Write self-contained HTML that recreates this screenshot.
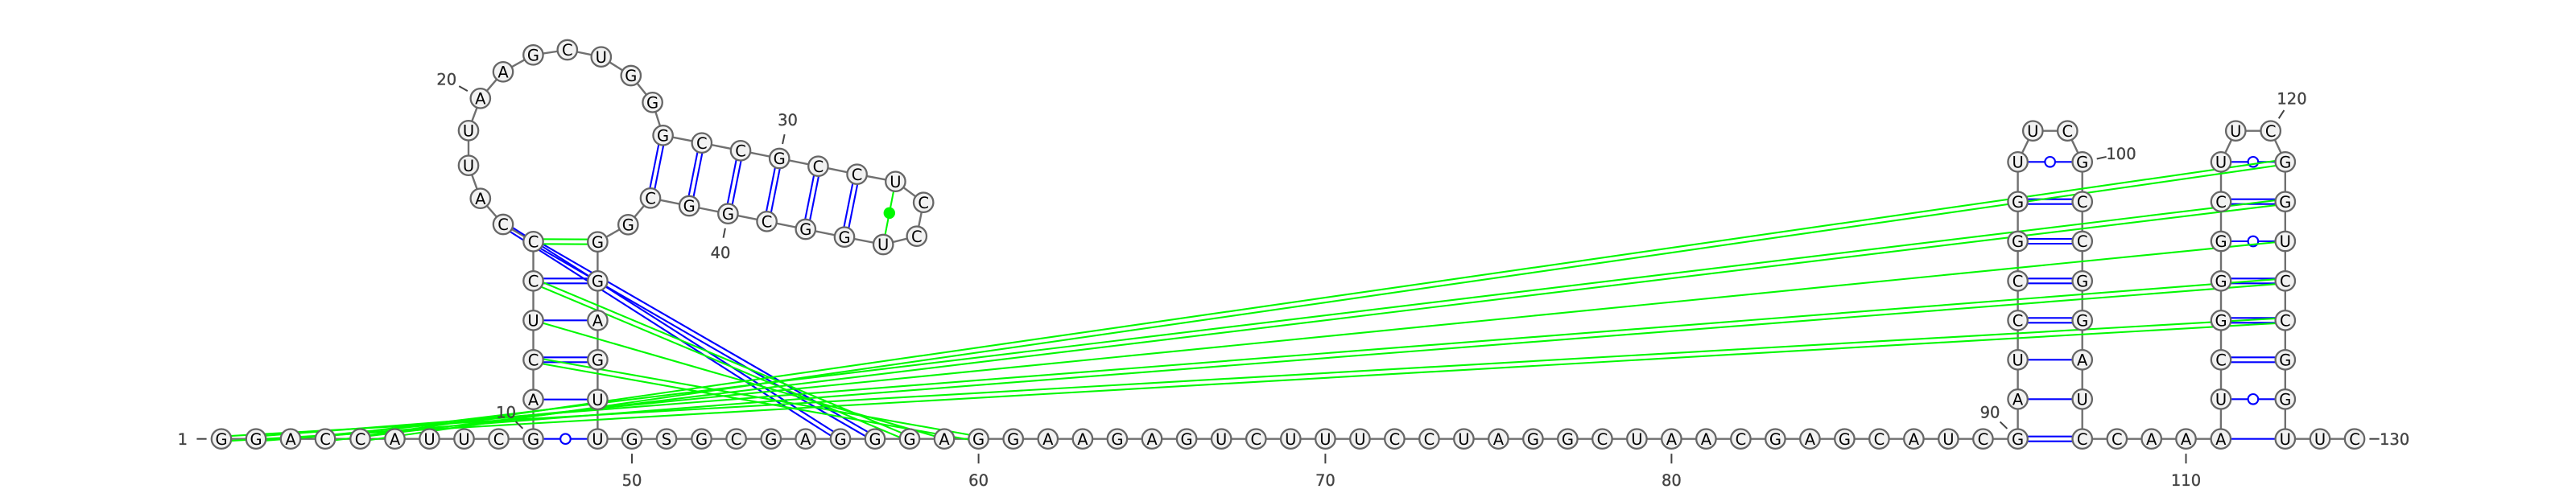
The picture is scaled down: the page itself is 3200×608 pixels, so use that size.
<!DOCTYPE html>
<html lang="en">
<head>
<meta charset="utf-8">
<title>RNA secondary structure diagram</title>
<style>
html,body{margin:0;padding:0;background:#fff;width:3200px;height:608px;overflow:hidden}
svg{display:block}
.base-letter{font-family:"DejaVu Sans","Liberation Sans",sans-serif;font-size:19.5px;fill:#000;text-anchor:middle}
.num-label{font-family:"DejaVu Sans","Liberation Sans",sans-serif;font-size:19.5px;fill:#444;stroke:#444;stroke-width:0.35px;text-anchor:middle}
</style>
</head>
<body>
<svg id="chart" xmlns="http://www.w3.org/2000/svg" width="3200" height="608" viewBox="0 0 3200 608">
  <g id="backbone"></g>
  <g id="pairs"></g>
  <g id="bases"></g>
  <g id="labels"></g>
</svg>
<script>
// Residue identity, index 0 = residue 1
const sequence = "GGACCAUUCG" + "ACUCCCAUUA" + "AGCUGGGCCG" + "CCUCCUGGCG" + "GCGGGAGUUG" +
                 "SGCGAGGGAG" + "GAAGAGUCUU" + "UCCUAGGCUA" + "ACGAGCAUCG" + "AUCCGGUUCG" +
                 "CCGGAUCCAA" + "AUCGGGCUUC" + "GGUCCGGUUC";

// Layout coordinates (layout units, origin at residue 1, y grows upward)
const layoutX = [
  0,43,86,129,172.5,215.5,258.5,301.5,344.5,387.5,
  387.5,387.5,387.5,387.5,387.5,350,321.8,307,307,321.8,
  350,387.4,429.8,471.8,508.8,535.6,548.6,596.8,645,693.2,
  741.4,789.6,837.4,872.2,863.8,822.2,774,725.8,677.6,629.4,
  581.2,533,505.3,467.4,467.4,467.4,467.4,467.4,467.4,510,
  553,596.5,639.6,682.8,725.7,769,812,855,898,940.6,
  983.7,1026.8,1069.9,1112.9,1156,1199.1,1242.2,1285.3,1328.3,1371.4,
  1414.4,1457.4,1500.4,1543.4,1586.4,1629.4,1672.4,1715.4,1758.4,1801.4,
  1844.4,1887.4,1930.4,1973.4,2016.4,2059.4,2102.4,2145.4,2188.4,2231.6,
  2231.6,2231.6,2231.6,2231.6,2231.6,2231.6,2231.6,2250.3,2293.3,2311.7,
  2311.7,2311.7,2311.7,2311.7,2311.7,2311.7,2311.7,2354.8,2397.7,2440.5,
  2483.8,2484,2484,2484,2484,2484,2484,2484,2502.3,2545.7,
  2563.8,2563.8,2563.8,2563.8,2563.8,2563.8,2563.8,2563.8,2607,2650
];
const layoutY = [
  0,0,0,0,0,0,0,0,0,0,
  49,98.4,147.4,196.4,245.4,266.7,299,340,383.4,423.4,
  456.4,477.4,483.7,475,451.7,418.4,377.4,368,358.4,348.7,
  339,329,320,294,252,241.7,251,260.7,270.4,280,
  289.7,299.4,266.4,245,196.4,147.4,98.4,49,0,0,
  0,0,0,0,0,0,0,0,0,0,
  0,0,0,0,0,0,0,0,0,0,
  0,0,0,0,0,0,0,0,0,0,
  0,0,0,0,0,0,0,0,0,0,
  49.4,98.4,147.4,196.4,245.7,295,344.4,383,383,344.4,
  295,245.7,196.4,147.4,98.4,49.4,0,0,0,0,
  0,49.4,98.4,147.4,196.4,245.7,295,344.4,383,383,
  344.4,295,245.7,196.4,147.4,98.4,49.4,0,0,0
];

// Base pairs (1-based residue numbers)
const watsonCrickFrom = [12,14,27,28,29,30,31,32,90,93,94,95,96,113,114,115,117,16,15];
const watsonCrickTo   = [47,45,42,41,40,39,38,37,107,104,103,102,101,126,125,124,122,56,57];
const singleFrom = [11,13,91,92,111];
const singleTo   = [48,46,106,105,128];
const wobbleFrom = [10,97,112,116,118];
const wobbleTo   = [49,100,127,123,121];
const greenDoubleFrom = [15,14,12,1,2,4,5];
const greenDoubleTo   = [44,58,60,125,124,122,121];
const greenSingleFrom = [13,3];
const greenSingleTo   = [59,123];
const mismatchFrom = [33];
const mismatchTo   = [36];

// Position labels: residue number, and text offset from the residue
const labelValues = [1,10,20,30,40,50,60,70,80,90,100,110,120,130];
const labelOffsetX = [-48.2,-33.9,-42,10.3,-9.4,0,0,0,0,-34.6,48.3,0,26.3,49.6];
const labelOffsetY = [0,-33.4,-24,-48,48.3,51,51,51,51,-33.4,-10.3,51,-40.4,0];

const NS = "http://www.w3.org/2000/svg";
const BLUE = "#0000ff";
const GREEN = "#00f800";
const xAxis = v => 275 + v;
const yAxis = v => 545.7 - v;
const px = n => xAxis(layoutX[n - 1]);
const py = n => yAxis(layoutY[n - 1]);

function make(tag, attrs, parent) {
  const el = document.createElementNS(NS, tag);
  for (const k in attrs) el.setAttribute(k, attrs[k]);
  parent.appendChild(el);
  return el;
}

const gBack = document.getElementById("backbone");
const gPairs = document.getElementById("pairs");
const gBases = document.getElementById("bases");
const gLabels = document.getElementById("labels");

for (let n = 1; n < sequence.length; n++) {
  const seg = make("line", {x1:px(n), y1:py(n), x2:px(n+1), y2:py(n+1), stroke:"#707070", "stroke-width":2.4}, gBack);
  
  
}

function pairLine(a, b, color, offset) {
  const dx = px(b) - px(a), dy = py(b) - py(a), len = Math.hypot(dx, dy);
  const ox = -dy / len * offset, oy = dx / len * offset;
  const ln = make("line", {x1:px(a)+ox, y1:py(a)+oy, x2:px(b)+ox, y2:py(b)+oy, stroke:color, "stroke-width":2.1}, gPairs);
  
  
}

function drawDouble(from, to, color) {
  from.forEach((a, i) => { pairLine(a, to[i], color, 3); pairLine(a, to[i], color, -3); });
}
function drawSingle(from, to, color) {
  from.forEach((a, i) => pairLine(a, to[i], color, 0));
}

drawDouble(watsonCrickFrom, watsonCrickTo, BLUE);
drawSingle(singleFrom, singleTo, BLUE);
drawSingle(wobbleFrom, wobbleTo, BLUE);
wobbleFrom.forEach((a, i) => {
  const b = wobbleTo[i];
  const c = make("circle", {cx:(px(a)+px(b))/2, cy:(py(a)+py(b))/2, r:6.3, fill:"#fff", stroke:BLUE, "stroke-width":2.1}, gPairs);
  
  
});
drawDouble(greenDoubleFrom, greenDoubleTo, GREEN);
drawSingle(greenSingleFrom, greenSingleTo, GREEN);
drawSingle(mismatchFrom, mismatchTo, GREEN);
mismatchFrom.forEach((a, i) => {
  const b = mismatchTo[i];
  const c = make("circle", {cx:(px(a)+px(b))/2, cy:(py(a)+py(b))/2, r:7.2, fill:GREEN}, gPairs);
  
  
});

for (let n = 1; n <= sequence.length; n++) {
  const c = make("circle", {cx:px(n), cy:py(n), r:12.2, fill:"#f2f2f2", stroke:"#666", "stroke-width":2.3}, gBases);
  
  
  const t = make("text", {x:px(n), y:py(n)+7.1, "class":"base-letter"}, gBases);
  t.textContent = sequence[n - 1];
  
  
}

labelValues.forEach((n, i) => {
  const ox = labelOffsetX[i], oy = labelOffsetY[i], r = Math.hypot(ox, oy);
  const ux = ox / r, uy = oy / r;
  const tick = make("line", {x1:px(n)+ux*18.4, y1:py(n)+uy*18.4, x2:px(n)+ux*30.6, y2:py(n)+uy*30.6, stroke:"#444", "stroke-width":2}, gLabels);
  
  
  const t = make("text", {x:px(n)+ox, y:py(n)+oy+7.1, "class":"num-label"}, gLabels);
  t.textContent = String(n);
  
  
});
</script>
</body>
</html>
